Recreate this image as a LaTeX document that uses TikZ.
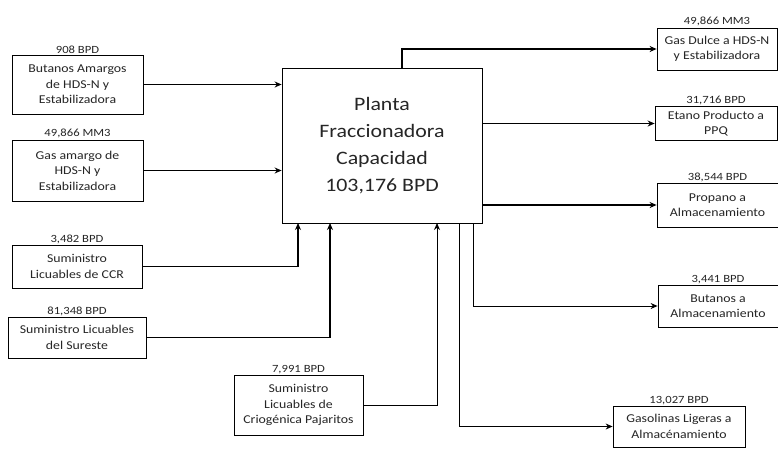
\documentclass[tikz,border=0pt]{standalone}
\usepackage{fontspec}
\setmainfont{Carlito}[FakeStretch=1.15]
\usetikzlibrary{positioning,arrows.meta}

\begin{document}
\begin{tikzpicture}
            [x=1pt,y=-1pt,
             every node/.style={font=\fontsize{12}{15.5}\selectfont, text=black!85},
             box/.style={draw, thick, fill=white, align=center, inner sep=2pt},
             qty/.style={inner sep=1pt, font=\fontsize{11}{13}\selectfont},
             flow/.style={line width=1.6pt, -{Stealth[length=7pt,width=6pt]}},
             thinflow/.style={line width=1pt, -{Stealth[length=7pt,width=6pt]}}]
            \useasboundingbox (0,0) rectangle (778,448);

            % planta
            \node[box, minimum width=200, minimum height=155, font=\fontsize{19}{27}\selectfont] (plant) at (382,145.5) {Planta\\Fraccionadora\\Capacidad\\103,176 BPD};

            % entradas
            \node[box, minimum width=131, minimum height=59] (in1) at (77.5,84.5) {Butanos Amargos\\de HDS-N y\\Estabilizadora};
            \node[box, minimum width=131, minimum height=61] (in2) at (77.5,170.5) {Gas amargo de\\HDS-N y\\Estabilizadora};
            \node[box, minimum width=130, minimum height=43] (in3) at (77,266.5) {Suministro\\Licuables de CCR};
            \node[box, minimum width=138, minimum height=41] (in4) at (77,337.5) {Suministro Licuables\\del Sureste};
            \node[box, minimum width=129, minimum height=60] (in5) at (298.5,405) {Suministro\\Licuables de\\Criog\'enica Pajaritos};

            \node[qty, above=0pt of in1] (q1) {908 BPD};
            \node[qty, above=0pt of in2] (q2) {49,866 MM3};
            \node[qty, above=0pt of in3] (q3) {3,482 BPD};
            \node[qty, above=0pt of in4] (q4) {81,348 BPD};
            \node[qty, above=0pt of in5] (q5) {7,991 BPD};

            % salidas
            \node[box, minimum width=120, minimum height=42] (out1) at (717,49) {Gas Dulce a HDS-N\\y Estabilizadora};
            \node[box, minimum width=122, minimum height=34] (out2) at (716,123.5) {Etano Producto a\\PPQ};
            \node[box, minimum width=121, minimum height=44] (out3) at (717.5,205) {Propano a\\Almacenamiento};
            \node[box, minimum width=120, minimum height=42] (out4) at (718,306) {Butanos a\\Almacenamiento};
            \node[box, minimum width=132, minimum height=41] (out5) at (679,426.5) {Gasolinas Ligeras a\\Almac\'enamiento};

            \node[qty, above=0pt of out1] (r1) {49,866 MM3};
            \node[qty, above=0pt of out2] (r2) {31,716 BPD};
            \node[qty, above=0pt of out3] (r3) {38,544 BPD};
            \node[qty, above=0pt of out4] (r4) {3,441 BPD};
            \node[qty, above=0pt of out5] (r5) {13,027 BPD};

            \coordinate (b3) at (298,223);
            \coordinate (b4) at (330,223);
            \coordinate (b5) at (437,223);
            \coordinate (b6) at (459,223);
            \coordinate (b7) at (473,223);
            \coordinate (t1) at (402,68);

            \foreach \src in {in1,in2}
            \draw[flow] (\src) -- (\src -| plant.west);
            \draw[flow] (in3) -| (b3);
            \draw[flow] (in4) -| (b4);
            \draw[thinflow] (in5) -| (b5);

            \draw[flow] (t1) |- (out1);
            \foreach \dst in {out2,out3}
            \draw[flow] (plant.east |- \dst) -- (\dst);
            \draw[thinflow] (b7) |- (out4);
            \draw[thinflow] (b6) |- (out5);
          \end{tikzpicture}
\end{document}
